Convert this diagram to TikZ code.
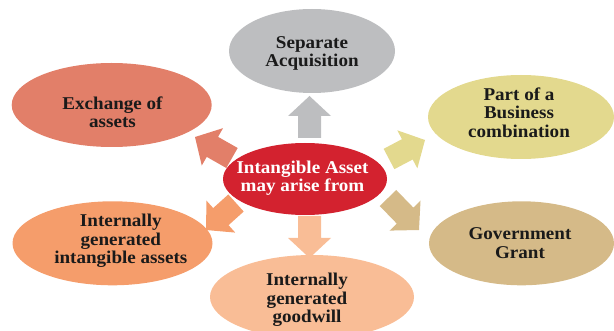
\documentclass[tikz,border=0pt]{standalone}
\usepackage{fontspec}
\setmainfont{Liberation Serif}[FakeStretch=1.06]
\usetikzlibrary{shapes.geometric,calc}
\definecolor{cgray}{HTML}{BDBEC0}
\definecolor{cexch}{HTML}{E27F69}
\definecolor{cpart}{HTML}{E3D98E}
\definecolor{cintg}{HTML}{F59D6B}
\definecolor{cgovt}{HTML}{D5BA88}
\definecolor{cgood}{HTML}{F9BD96}
\definecolor{cred}{HTML}{D3222F}
\definecolor{ctext}{HTML}{1A1A1A}
\newcommand{\blkarrow}[4]{%
  \coordinate (#1b) at ($(#3)!20pt!(#2)$);
  \fill[#4] ($(#2)!11.5pt!90:(#3)$) -- ($(#1b)!11.5pt!-90:(#2)$) -- ($(#1b)!21.5pt!-90:(#2)$) -- (#3)
    -- ($(#1b)!21.5pt!90:(#2)$) -- ($(#1b)!11.5pt!90:(#2)$) -- ($(#2)!11.5pt!-90:(#3)$) -- cycle;
}
\tikzset{
  blob/.style={ellipse, inner sep=0pt, draw=none},
  lbl/.style={align=center, anchor=base, text=ctext, font=\bfseries\fontsize{18}{18.5}\selectfont, inner sep=0pt},
}
\begin{document}
\begin{tikzpicture}[x=1pt,y=-1pt]
\useasboundingbox (0,0) rectangle (614,331);
% arrows
\coordinate (upT) at (309.5,138); \coordinate (upP) at (309.5,96);
\coordinate (dnT) at (309.5,216); \coordinate (dnP) at (309.5,258);
\coordinate (ulT) at (232,158);   \coordinate (ulP) at (195,137);
\coordinate (urT) at (389,159);   \coordinate (urP) at (425,140);
\coordinate (dlT) at (236,203);   \coordinate (dlP) at (206,230);
\coordinate (drT) at (388,198);   \coordinate (drP) at (419,230);
\blkarrow{up}{upT}{upP}{cgray}
\blkarrow{dn}{dnT}{dnP}{cgood}
\blkarrow{ul}{ulT}{ulP}{cexch}
\blkarrow{ur}{urT}{urP}{cpart}
\blkarrow{dl}{dlT}{dlP}{cintg}
\blkarrow{dr}{drT}{drP}{cgovt}
% ellipses
\node[blob, fill=cgray, minimum width=166pt, minimum height=84pt] (sep) at (312,51) {};
\node[blob, fill=cexch, minimum width=200pt, minimum height=84pt] (exch) at (111.7,105) {};
\node[blob, fill=cpart, minimum width=186pt, minimum height=84pt] (part) at (521,117) {};
\node[blob, fill=cintg, minimum width=200pt, minimum height=84pt] (intg) at (112.5,243.3) {};
\node[blob, fill=cgovt, minimum width=185pt, minimum height=84pt] (govt) at (521.5,243.3) {};
\node[blob, fill=cgood, minimum width=204pt, minimum height=84pt] (good) at (312,297) {};
\node[blob, fill=cred, minimum width=164pt, minimum height=72pt] (ctr) at (305,179) {};
% labels (anchor = baseline of last line)
\node[lbl] (tsep) at (312,67) {Separate\\Acquisition};
\node[lbl] (texch) at (112.5,128) {Exchange of\\assets};
\node[lbl] (tpart) at (519,137.3) {Part of a\\Business\\combination};
\node[lbl] (tintg) at (120.8,264) {Internally\\generated\\intangible assets};
\node[lbl] (tgovt) at (520,258.3) {Government\\Grant};
\node[lbl] (tgood) at (307,323) {Internally\\generated\\goodwill};
\node[lbl, text=white] (tctr) at (302.5,192) {Intangible Asset\\may arise from};
\end{tikzpicture}
\end{document}
